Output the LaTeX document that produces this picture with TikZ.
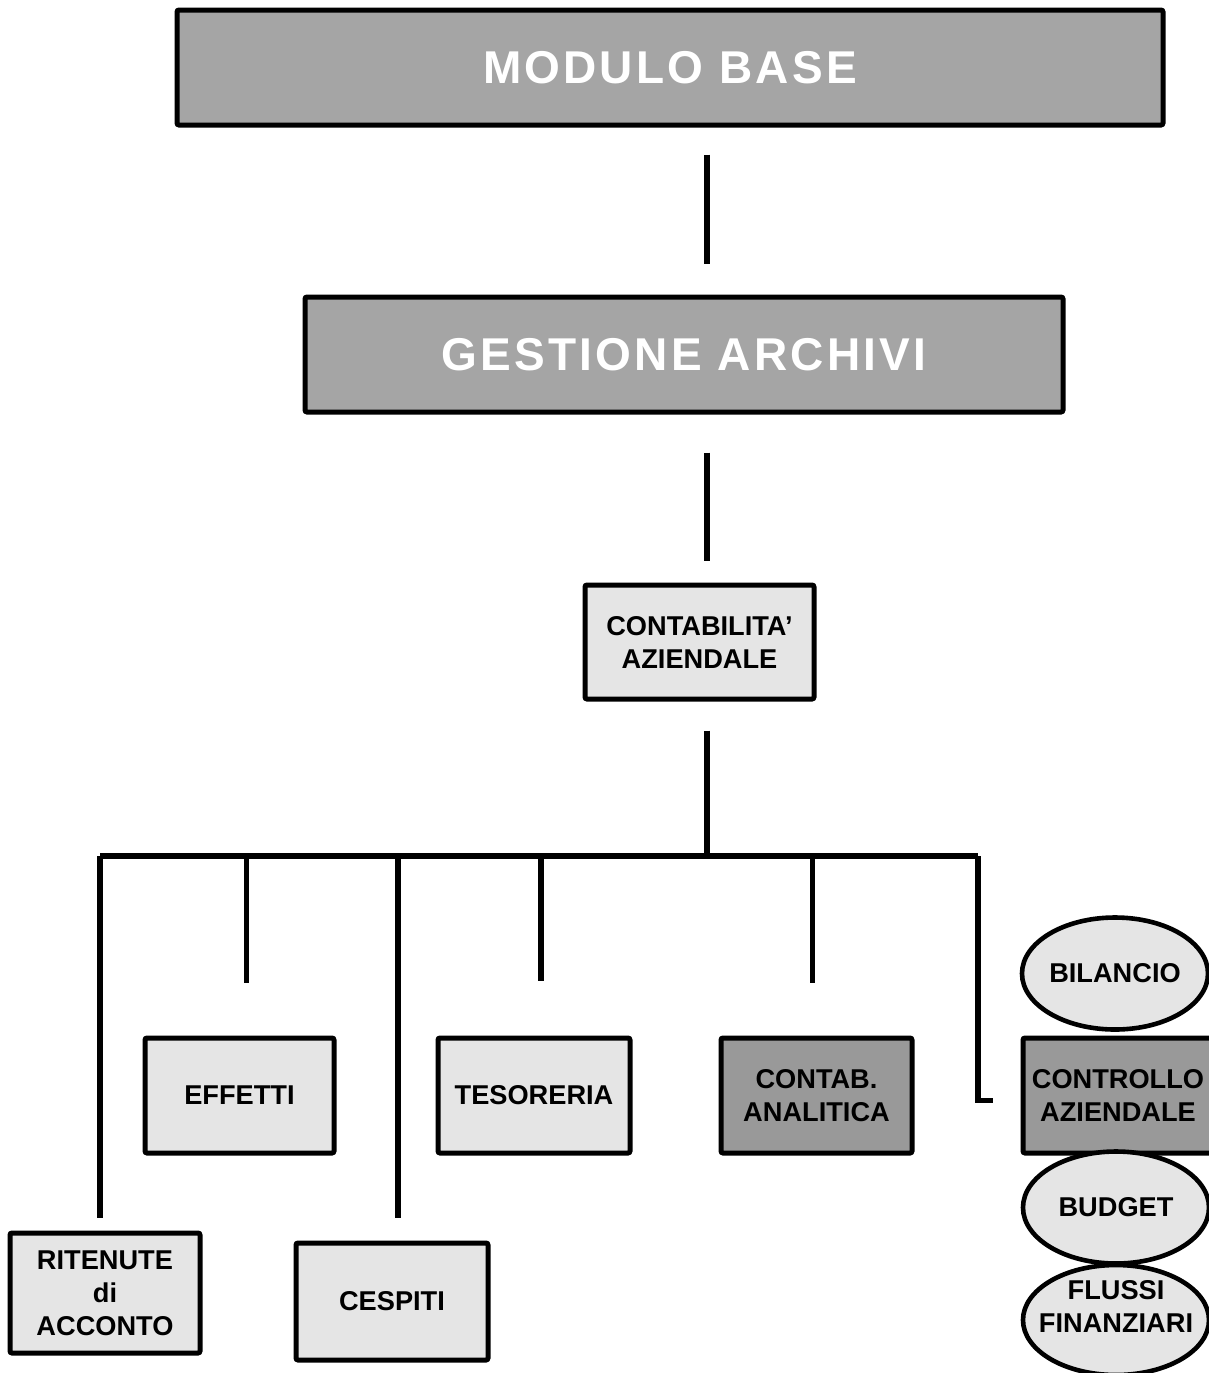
\documentclass[tikz,border=0pt]{standalone}
\usepackage{fontspec}
\setmainfont{Liberation Sans}
\newfontfamily\titlefont[LetterSpace=7]{Liberation Sans}
\usetikzlibrary{shapes.geometric}

\definecolor{titlegray}{HTML}{A5A5A5}
\definecolor{darkfill}{HTML}{999999}
\definecolor{lightfill}{HTML}{E5E5E5}

\begin{document}
\begin{tikzpicture}[
    x=0.5pt, y=-0.5pt,
    % box styles
    titlebox/.style={rectangle, draw=black, line width=2.5pt, fill=titlegray,
        rounded corners=1pt, minimum height=57.5pt, text=white,
        font=\titlefont\bfseries\fontsize{23}{27}\selectfont},
    lightbox/.style={rectangle, draw=black, line width=2.5pt, fill=lightfill,
        rounded corners=1pt, minimum width=95pt, minimum height=57.5pt, align=center,
        font=\bfseries\fontsize{13.6}{16.5}\selectfont},
    darkbox/.style={lightbox, fill=darkfill},
    oval/.style={ellipse, draw=black, line width=2.3pt, fill=lightfill,
        minimum width=93pt, minimum height=56pt, inner sep=0pt},
    ovaltext/.style={align=center, font=\bfseries\fontsize{13.6}{16.5}\selectfont},
    link/.style={line width=2.9pt, draw=black},
]

\useasboundingbox (0,0) rectangle (1209,1373);
\clip (0,0) rectangle (1209,1373);

% ============ Top: modules ============
\node[titlebox, minimum width=493pt] (modulo) at (670,67.5) {MODULO BASE};
\node[titlebox, minimum width=379pt] (gestione) at (684,354.5) {GESTIONE ARCHIVI};
\node[lightbox, minimum width=114.5pt, minimum height=57pt] (contab) at (699.5,642) {CONTABILITA'\\AZIENDALE};

% ============ Bottom row ============
\node[lightbox, minimum width=94.5pt] (effetti) at (239.5,1095.5) {EFFETTI};
\node[lightbox, minimum width=96pt] (tesoreria) at (534,1095.5) {TESORERIA};
\node[darkbox, minimum width=95.5pt] (analitica) at (816.5,1095.5) {CONTAB.\\ANALITICA};
\node[darkbox, minimum width=95pt] (controllo) at (1118,1095.5) {CONTROLLO\\AZIENDALE};
\node[lightbox, minimum width=95pt, minimum height=60pt] (ritenute) at (105,1293) {RITENUTE\\di\\ACCONTO};
\node[lightbox, minimum width=96pt, minimum height=58.5pt] (cespiti) at (392,1301.5) {CESPITI};

% ============ Controllo aziendale satellites ============
\node[oval, label={[ovaltext]center:BILANCIO}] (bilancio) at (1115,973.5) {};
\node[oval, label={[ovaltext]center:BUDGET}] (budget) at (1116,1207.5) {};
\node[oval, minimum height=55pt, label={[ovaltext, yshift=7pt]center:{FLUSSI\\FINANZIARI}}] (flussi) at (1116,1320) {};

% ============ Trunk ============
\coordinate (trunk) at (707,0);
\coordinate (busL) at (100,856);
\coordinate (busR) at (978,856);

\draw[link, shorten <=13.5pt, shorten >=15.5pt] (modulo.south -| trunk) -- (gestione.north -| trunk);
\draw[link, shorten <=19pt, shorten >=11pt] (gestione.south -| trunk) -- (contab.north -| trunk);
\draw[link, shorten <=14.5pt] (contab.south -| trunk) -- (trunk |- busL);
\draw[link] (busL) -- (busR);

% ============ Branches ============
\draw[link, shorten >=6.5pt] (busL) -- (busL |- ritenute.north);
\draw[link, shorten >=26.5pt] ([xshift=3.5pt]effetti.north |- busL) -- ([xshift=3.5pt]effetti.north);
\draw[link, shorten >=11.5pt] ([xshift=3pt]cespiti.north |- busL) -- ([xshift=3pt]cespiti.north);
\draw[link, shorten >=27.5pt] ([xshift=3.5pt]tesoreria.north |- busL) -- ([xshift=3.5pt]tesoreria.north);
\draw[link, shorten >=26.5pt] ([xshift=-2pt]analitica.north |- busL) -- ([xshift=-2pt]analitica.north);
\draw[link, shorten >=14pt] (busR) |- ([yshift=-2.5pt]controllo.west);

\end{tikzpicture}
\end{document}
